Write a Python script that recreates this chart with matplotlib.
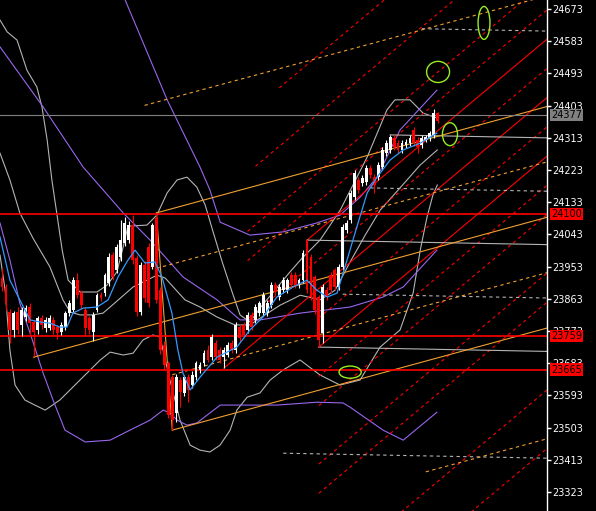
import matplotlib
matplotlib.use('Agg')
import matplotlib.pyplot as plt
import matplotlib.transforms as mtransforms
from matplotlib.patches import Ellipse

# --- candles (bar index = position in list) ---
opens = [23921, 23896, 23826, 23776, 23826, 23790, 23812, 23840, 23798, 23776,
         23809, 23781, 23781, 23804, 23784, 23770, 23784, 23823, 23832, 23915,
         23879, 23832, 23809, 23770, 23832, 23874, 23879, 23907, 23985, 23943,
         23980, 24019, 24027, 24069, 23977, 23826, 23957, 24008, 23952, 24089,
         23887, 23734, 23683, 23644, 23544, 23636, 23600, 23644, 23622, 23644,
         23664, 23683, 23720, 23700, 23739, 23720, 23700, 23706, 23739, 23720,
         23784, 23790, 23776, 23818, 23804, 23823, 23823, 23823, 23846, 23901,
         23868, 23887, 23887, 23929, 23929, 23901, 23915, 24027, 23980, 23924,
         23868, 23767, 23887, 23929, 23943, 23896, 23952, 24055, 24083, 24147,
         24195, 24186, 24189, 24228, 24203, 24203, 24231, 24270, 24279, 24312,
         24298, 24279, 24293, 24298, 24335, 24307, 24293, 24307, 24312, 24321,
         24382]
closes = [23896, 23851, 23776, 23823, 23776, 23832, 23837, 23795, 23770, 23809,
          23790, 23804, 23809, 23776, 23767, 23790, 23823, 23851, 23915, 23874,
          23846, 23781, 23776, 23818, 23874, 23865, 23929, 23980, 23924, 24008,
          24027, 24075, 24069, 23971, 23826, 23957, 23865, 23851, 24069, 23860,
          23720, 23678, 23538, 23524, 23644, 23602, 23644, 23608, 23650, 23683,
          23678, 23711, 23692, 23756, 23700, 23692, 23720, 23734, 23720, 23790,
          23753, 23762, 23818, 23784, 23840, 23851, 23874, 23851, 23901, 23882,
          23896, 23915, 23915, 23901, 23901, 23915, 23991, 23887, 23868, 23832,
          23748, 23896, 23868, 23887, 23896, 23952, 24064, 24075, 24159, 24214,
          24167, 24201, 24228, 24209, 24181, 24237, 24279, 24298, 24315, 24287,
          24279, 24298, 24301, 24312, 24298, 24287, 24312, 24315, 24326, 24382,
          24360]
highs = [23949, 23905, 23835, 23830, 23840, 23840, 23845, 23850, 23805, 23815,
         23818, 23812, 23818, 23812, 23790, 23798, 23830, 23860, 23924, 23935,
         23887, 23840, 23815, 23826, 23880, 23882, 23935, 23990, 23995, 24015,
         24083, 24092, 24080, 24097, 23985, 23965, 23970, 24020, 24075, 24103,
         23895, 23745, 23690, 23650, 23652, 23645, 23650, 23652, 23660, 23690,
         23686, 23720, 23735, 23764, 23748, 23728, 23728, 23742, 23748, 23798,
         23792, 23798, 23825, 23826, 23848, 23858, 23882, 23860, 23910, 23910,
         23904, 23924, 23922, 23937, 23937, 23922, 23998, 24027, 23988, 23930,
         23875, 23904, 23895, 23937, 23950, 23960, 24072, 24083, 24167, 24222,
         24203, 24209, 24236, 24236, 24211, 24245, 24287, 24306, 24321, 24320,
         24306, 24306, 24309, 24320, 24343, 24315, 24320, 24322, 24333, 24393,
         24385]
lows = [23885, 23830, 23739, 23756, 23765, 23760, 23800, 23760, 23700, 23765,
        23780, 23770, 23775, 23765, 23750, 23762, 23776, 23815, 23825, 23865,
        23835, 23760, 23765, 23745, 23825, 23858, 23870, 23898, 23915, 23935,
        23970, 24010, 24019, 23960, 23815, 23818, 23855, 23840, 23945, 23850,
        23710, 23665, 23530, 23496, 23518, 23560, 23592, 23575, 23615, 23636,
        23655, 23675, 23685, 23692, 23692, 23684, 23669, 23700, 23712, 23712,
        23745, 23755, 23768, 23776, 23796, 23815, 23815, 23815, 23838, 23874,
        23860, 23880, 23880, 23893, 23893, 23894, 23908, 23878, 23860, 23820,
        23728, 23740, 23860, 23878, 23887, 23888, 23944, 24047, 24075, 24139,
        24159, 24178, 24181, 24201, 24160, 24195, 24223, 24262, 24271, 24279,
        24271, 24271, 24285, 24290, 24290, 24270, 24285, 24300, 24305, 24313,
        24355]

price_ticks = [24673, 24583, 24493, 24403, 24313, 24223, 24133, 24043,
               23953, 23863, 23773, 23683, 23593, 23503, 23413, 23323]
red_levels = [24100, 23759, 23665]
last_price = 24377

# --- indicator lines (bar, price) ---
blue_bars = [-0.5, 2.0, 4.5, 7.1, 9.6, 12.1, 14.6, 16.4, 17.9, 20.5, 24.0, 26.8, 29.3,
             31.8, 33.6, 36.1, 38.6, 40.4, 42.9, 44.4, 45.7, 47.5, 50.0, 54.3, 59.3,
             62.6, 65.9, 69.4, 73.5, 77.0, 79.5, 82.1, 84.6, 87.1, 89.6, 92.2, 94.7,
             98.0, 101.3, 105.6, 109.8]
blue_prices = [24036, 23915, 23860, 23804, 23798, 23795, 23784, 23784, 23823, 23837,
               23840, 23860, 23924, 23971, 23999, 23963, 23966, 23924, 23823, 23720,
               23655, 23608, 23644, 23700, 23728, 23776, 23812, 23868, 23896, 23915,
               23887, 23868, 23879, 23971, 24064, 24159, 24203, 24251, 24279, 24298,
               24326]

purple_mid_bars = [-0.5, 10.4, 20.5, 30.6, 37.4, 45.7, 54.3, 60.1, 65.2, 75.3, 87.9,
                   96.2, 101.3, 109.8]
purple_mid_prices = [24567, 24399, 24231, 24103, 24027, 23924, 23860, 23804, 23804,
                     23823, 23840, 23868, 23896, 23999]
purple_up_bars = [31.1, 41.7, 50.0, 52.5, 55.1, 62.6, 71.0, 79.5, 85.4, 90.4, 94.7,
                  100.5, 109.8]
purple_up_prices = [24698, 24419, 24231, 24167, 24077, 24041, 24050, 24075, 24097,
                    24147, 24203, 24335, 24446]
purple_low_bars = [-0.5, 2.0, 4.5, 7.1, 10.4, 12.9, 15.9, 21.0, 27.3, 32.3, 37.4, 40.7,
                   42.4, 44.2, 46.7, 49.2, 52.5, 55.1, 60.9, 69.4, 79.5, 86.1, 87.9,
                   96.2, 101.3, 109.8]
purple_low_prices = [24075, 23971, 23851, 23767, 23655, 23580, 23496, 23463, 23468,
                     23496, 23524, 23552, 23544, 23524, 23510, 23516, 23544, 23566,
                     23566, 23566, 23574, 23572, 23560, 23496, 23468, 23546]

band_up_bars = [-0.5, 1.3, 3.8, 6.3, 8.8, 10.1, 11.4, 12.6, 13.9, 15.2, 16.7, 19.7, 24.0,
                26.5, 29.0, 30.6, 31.8, 36.6, 39.1, 41.7, 44.2, 46.7, 49.2, 51.3, 53.3,
                55.6, 58.1, 60.1, 62.6, 65.7, 68.9, 72.7, 75.8, 80.3, 85.4, 92.2, 97.2,
                99.2, 103.0, 104.8, 106.3, 109.9]
band_up_prices = [24642, 24609, 24586, 24502, 24455, 24399, 24307, 24195, 24097, 23999,
                  23915, 23882, 23882, 23901, 23938, 24008, 24066, 24069, 24097, 24159,
                  24195, 24203, 24175, 24125, 24050, 23966, 23882, 23818, 23798, 23845,
                  23887, 23938, 23977, 24027, 24111, 24259, 24391, 24419, 24419, 24399,
                  24382, 24368]
band_mid_bars = [-0.5, 2.0, 4.5, 7.8, 12.1, 15.4, 17.2, 19.7, 23.0, 25.5, 27.3, 33.1,
                 36.6, 39.1, 41.2, 46.2, 50.0, 54.3, 58.8, 62.6, 66.4, 70.2, 75.3, 80.3,
                 84.1, 87.9, 91.7, 95.5, 100.5, 105.6, 109.9]
band_mid_prices = [24270, 24195, 24103, 24033, 23952, 23860, 23826, 23818, 23818, 23823,
                   23840, 23896, 23915, 23929, 23921, 23860, 23840, 23812, 23790, 23790,
                   23818, 23845, 23873, 23860, 23887, 23966, 24041, 24111, 24173, 24237,
                   24279]
band_low_bars = [-0.5, 0.8, 2.0, 3.3, 5.8, 8.3, 10.9, 14.6, 19.7, 24.8, 27.3, 30.6, 33.1,
                 35.6, 38.1, 39.9, 42.4, 44.95, 47.5, 50.0, 52.5, 55.05, 57.6, 59.3, 61.9,
                 65.15, 67.7, 70.96, 75.25, 80.3, 85.35, 90.4, 95.45, 100.5, 103.8,
                 105.6, 107.3, 108.8, 109.9]
band_low_prices = [23985, 23887, 23720, 23622, 23580, 23566, 23552, 23580, 23636, 23692,
                   23714, 23706, 23711, 23748, 23762, 23756, 23636, 23524, 23454, 23440,
                   23435, 23454, 23496, 23552, 23588, 23600, 23636, 23664, 23692, 23650,
                   23622, 23636, 23728, 23776, 23879, 23999, 24091, 24153, 24181]

# --- Andrews pitchforks: anchors A, B, C as (bar, price) ---
orange_fork = [(8, 23700), (39, 24103), (43, 23496)]
gray_fork = [(77, 24027), (98, 24321), (80, 23728)]
red_fork = [(56, 23669), (77, 24027), (80, 23728)]
# (level, first bar, dashed?)
orange_lines = [(0, 8, False), (1, 39, False), (-1, 43, False),
                (0.5, 39, True), (-0.5, 43, True), (2, 36, True), (-2, 107, True)]
gray_lines = [(0, 77, False), (1, 98, False), (-1, 80, False),
              (0.5, 93, True), (-0.5, 86, True), (2, 106, True), (-2, 71, True)]
red_lines = [(0, 56, False), (1, 77, False), (-1, 80, False),
             (4, 70, True), (3, 64, True), (2, 62, True), (1.5, 62, True), (0.5, 62, True),
             (-0.5, 80, True), (-1.5, 80, True), (-2, 80, True), (-3, 80, True),
             (-3.5, 80, True), (-5, 80, True), (-6, 80, True)]

# marks (bar, price, width in bars, height in points)
ellipses = [(121.7, 24634, 3.0, 92), (110.1, 24497, 5.8, 59),
            (113.1, 24323, 3.8, 64), (87.9, 23658, 5.6, 34)]

X_LEFT, X_RIGHT = -0.5, 137.6
Y_LOW, Y_HIGH = 23270, 24698

fig = plt.figure(figsize=(5.96, 5.11), dpi=100, facecolor='black')
ax = fig.add_axes([0, 0, 547 / 596, 1])
ax.set_facecolor('black')
ax.set_xlim(X_LEFT, X_RIGHT)
ax.set_ylim(Y_LOW, Y_HIGH)

RED = '#ff0000'
ORANGE = '#f0a030'
GRAY = '#b4b4b4'
DASH = (0, (3, 3))


def draw_fork(anchors, lines, color):
    (ab, ap), (bb, bp), (cb, cp) = anchors
    slope = ((bp + cp) / 2 - ap) / ((bb + cb) / 2 - ab)
    half = bp - (ap + slope * (bb - ab))
    for level, start, dashed in lines:
        xs = [start, X_RIGHT]
        ys = [ap + slope * (x - ab) + level * half for x in xs]
        ax.plot(xs, ys, color=color, lw=0.8, ls=DASH if dashed else '-', zorder=2)


# bands and moving averages
ax.plot(band_up_bars, band_up_prices, color=GRAY, lw=0.8, zorder=1)
ax.plot(band_mid_bars, band_mid_prices, color=GRAY, lw=0.8, zorder=1)
ax.plot(band_low_bars, band_low_prices, color=GRAY, lw=0.8, zorder=1)
ax.plot(purple_up_bars, purple_up_prices, color='#9966ee', lw=0.8, zorder=1)
ax.plot(purple_mid_bars, purple_mid_prices, color='#9966ee', lw=0.8, zorder=1)
ax.plot(purple_low_bars, purple_low_prices, color='#9966ee', lw=0.8, zorder=1)

draw_fork(red_fork, red_lines, RED)
draw_fork(gray_fork, gray_lines, GRAY)
draw_fork(orange_fork, orange_lines, ORANGE)
# handle of the orange fork
ax.plot([orange_fork[1][0], orange_fork[2][0]], [orange_fork[1][1], orange_fork[2][1]],
        color=ORANGE, lw=0.8, zorder=2)
ax.plot([orange_fork[0][0]] * 2, [orange_fork[0][1], orange_fork[0][1] + 55],
        color=ORANGE, lw=0.8, zorder=2)

for lvl in red_levels:
    ax.axhline(lvl, color=RED, lw=1.2, zorder=2)
ax.axhline(last_price, color='#808080', lw=0.8, zorder=2)

# candles
for i, (o, c, h, l) in enumerate(zip(opens, closes, highs, lows)):
    col = 'white' if c >= o else RED
    ax.vlines(i, l, h, color=col, lw=0.8, zorder=3)
    body = max(abs(c - o), 3)
    ax.bar(i, body, bottom=min(o, c), width=0.72, color=col, linewidth=0, zorder=3)

ax.plot(blue_bars, blue_prices, color='#3399ff', lw=0.9, zorder=4)

for (xb, yp, w, h) in ellipses:
    ax.add_patch(Ellipse((xb, yp), w, h, fill=False, edgecolor='#99ee22', lw=1, zorder=5))

# right price scale
for side in ['left', 'top', 'bottom']:
    ax.spines[side].set_visible(False)
ax.spines['right'].set_color('white')
ax.spines['right'].set_linewidth(1)
ax.set_xticks([])
ax.yaxis.tick_right()
ax.set_yticks(price_ticks)
ax.set_yticklabels([str(t) for t in price_ticks])
ax.tick_params(axis='y', colors='white', length=3, width=1, pad=1, labelsize=7)

trans = mtransforms.blended_transform_factory(ax.transAxes, ax.transData)
ax.text(1.007, last_price, str(last_price), transform=trans, fontsize=7, color='black',
        va='center', ha='left', zorder=10,
        bbox=dict(boxstyle='square,pad=0.12', fc='#808080', ec='none'))
for lvl in red_levels:
    ax.text(1.007, lvl, str(lvl), transform=trans, fontsize=7, color='black',
            va='center', ha='left', zorder=10,
            bbox=dict(boxstyle='square,pad=0.12', fc=RED, ec='none'))

fig.savefig('out.png', dpi=100, facecolor='black')
